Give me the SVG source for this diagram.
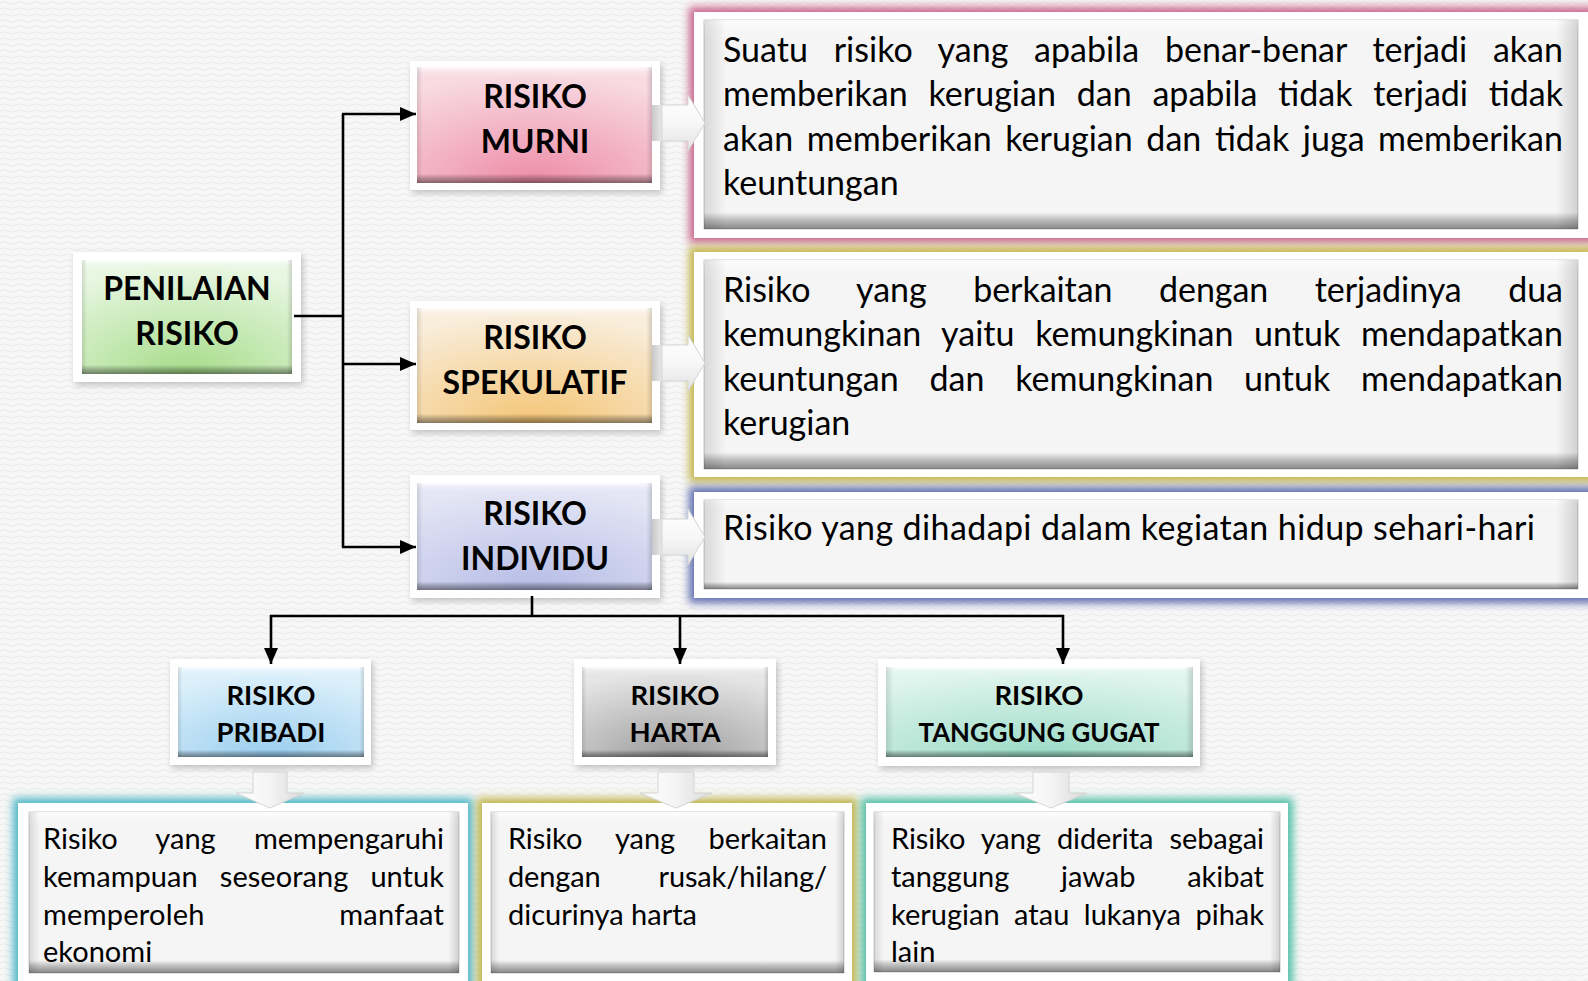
<svg xmlns="http://www.w3.org/2000/svg" width="1588" height="981" viewBox="0 0 1588 981">
<defs>
<style>
.frame{fill:#fff;filter:url(#sh)}
.nt{font-family:Lato,'Liberation Sans',sans-serif;font-weight:700;font-size:32px;text-anchor:middle;fill:#000}
.nts{font-size:27.5px}
.dt{font-family:Lato,'Liberation Sans',sans-serif;font-size:34px;fill:#000}
.dts{font-size:29px}
.inner{fill:#f5f5f5;stroke:#c9c9c9;stroke-width:1}
.bev{fill:url(#bevel)}
.bevs{fill:url(#bevelSide)}
.conn{fill:none;stroke:#000;stroke-width:2.6}
.chev{fill:url(#chevFill);stroke:#d4d4d4;stroke-width:1}
.glow{filter:url(#glow)}
</style>
<pattern id="bg" width="16" height="6" patternUnits="userSpaceOnUse">
<rect width="16" height="6" fill="#f7f7f7"/>
<path d="M0,3 Q4,0.5 8,3 T16,3" fill="none" stroke="#ebebeb" stroke-width="1"/>
</pattern>
<filter id="sh" x="-10%" y="-10%" width="125%" height="135%">
<feDropShadow dx="2" dy="3" stdDeviation="3" flood-color="#000" flood-opacity="0.22"/>
</filter>
<filter id="glow" x="-5%" y="-15%" width="110%" height="130%">
<feGaussianBlur stdDeviation="4"/>
</filter>
<linearGradient id="bevel" x1="0" y1="0" x2="0" y2="1">
<stop offset="0" stop-color="#fff" stop-opacity="0.85"/>
<stop offset="0.04" stop-color="#fff" stop-opacity="0.25"/>
<stop offset="0.09" stop-color="#fff" stop-opacity="0"/>
<stop offset="0.92" stop-color="#000" stop-opacity="0"/>
<stop offset="0.955" stop-color="#000" stop-opacity="0.22"/>
<stop offset="1" stop-color="#000" stop-opacity="0.45"/>
</linearGradient>
<linearGradient id="bevelSide" x1="0" y1="0" x2="1" y2="0">
<stop offset="0" stop-color="#000" stop-opacity="0.12"/>
<stop offset="0.025" stop-color="#000" stop-opacity="0"/>
<stop offset="0.975" stop-color="#000" stop-opacity="0"/>
<stop offset="1" stop-color="#000" stop-opacity="0.15"/>
</linearGradient>
<linearGradient id="chevFill" x1="0" y1="0" x2="0" y2="1">
<stop offset="0" stop-color="#ffffff"/>
<stop offset="0.5" stop-color="#f7f7f7"/>
<stop offset="1" stop-color="#e2e2e2"/>
</linearGradient>
<linearGradient id="chevDown" x1="0" y1="0" x2="1" y2="0">
<stop offset="0" stop-color="#ffffff"/>
<stop offset="0.5" stop-color="#f4f4f4"/>
<stop offset="1" stop-color="#dadada"/>
</linearGradient>
<linearGradient id="barH" x1="0" y1="0" x2="1" y2="0">
<stop offset="0" stop-color="#c8c8c8"/>
<stop offset="1" stop-color="#e8e8e8"/>
</linearGradient>
<linearGradient id="barV" x1="0" y1="0" x2="0" y2="1">
<stop offset="0" stop-color="#c8c8c8"/>
<stop offset="1" stop-color="#e8e8e8"/>
</linearGradient>
<radialGradient id="gGreen" cx="0.5" cy="1" r="0.95"><stop offset="0" stop-color="#a6dc8a"/><stop offset="1" stop-color="#e8f7e2"/></radialGradient>
<radialGradient id="gPink" cx="0.5" cy="1" r="0.95"><stop offset="0" stop-color="#ee8ca7"/><stop offset="1" stop-color="#f8dbe3"/></radialGradient>
<radialGradient id="gPeach" cx="0.5" cy="1" r="0.95"><stop offset="0" stop-color="#f4c576"/><stop offset="1" stop-color="#f9eddb"/></radialGradient>
<radialGradient id="gLav" cx="0.5" cy="1" r="0.95"><stop offset="0" stop-color="#b6bce6"/><stop offset="1" stop-color="#e4e6f5"/></radialGradient>
<radialGradient id="gBlue" cx="0.5" cy="1" r="0.95"><stop offset="0" stop-color="#98cdef"/><stop offset="1" stop-color="#def1fb"/></radialGradient>
<radialGradient id="gGray" cx="0.5" cy="1" r="0.95"><stop offset="0" stop-color="#9c9c9c"/><stop offset="1" stop-color="#e6e6e6"/></radialGradient>
<radialGradient id="gMint" cx="0.5" cy="1" r="0.95"><stop offset="0" stop-color="#9adac6"/><stop offset="1" stop-color="#e0f5ee"/></radialGradient>
<marker id="ah" markerUnits="userSpaceOnUse" markerWidth="18" markerHeight="16" refX="16" refY="7" orient="auto">
<path d="M0,0 L16,7 L0,14 z" fill="#000"/>
</marker>
</defs>

<rect width="1588" height="981" fill="url(#bg)"/>

<!-- description boxes -->
<g id="desc-murni">
<rect class="glow" x="689" y="7" width="910" height="236" fill="#c9668c"/>
<rect x="694" y="12" width="900" height="226" fill="#fff"/>
<rect class="inner" x="704" y="20" width="874" height="209"/>
<rect class="bev" x="704" y="20" width="874" height="209"/>
<rect class="bevs" x="704" y="20" width="874" height="209"/>
<text class="dt" x="723" y="61.5" word-spacing="17" textLength="840" lengthAdjust="spacing">Suatu risiko yang apabila benar-benar terjadi akan</text>
<text class="dt" x="723" y="106" word-spacing="12" textLength="840" lengthAdjust="spacing">memberikan kerugian dan apabila tidak terjadi tidak</text>
<text class="dt" x="723" y="150.5" word-spacing="4.8" textLength="840" lengthAdjust="spacing">akan memberikan kerugian dan tidak juga memberikan</text>
<text class="dt" x="723" y="195">keuntungan</text>
</g>

<g id="desc-spekulatif">
<rect class="glow" x="689" y="247" width="910" height="235" fill="#c4b54c"/>
<rect x="694" y="252" width="900" height="225" fill="#fff"/>
<rect class="inner" x="704" y="260" width="874" height="209"/>
<rect class="bev" x="704" y="260" width="874" height="209"/>
<rect class="bevs" x="704" y="260" width="874" height="209"/>
<text class="dt" x="723" y="301.5" word-spacing="37.9" textLength="840" lengthAdjust="spacing">Risiko yang berkaitan dengan terjadinya dua</text>
<text class="dt" x="723" y="346" word-spacing="11.9" textLength="840" lengthAdjust="spacing">kemungkinan yaitu kemungkinan untuk mendapatkan</text>
<text class="dt" x="723" y="390.5" word-spacing="22" textLength="840" lengthAdjust="spacing">keuntungan dan kemungkinan untuk mendapatkan</text>
<text class="dt" x="723" y="435">kerugian</text>
</g>

<g id="desc-individu">
<rect class="glow" x="689" y="487" width="910" height="116" fill="#5f6eb0"/>
<rect x="694" y="492" width="900" height="106" fill="#fff"/>
<rect class="inner" x="704" y="500" width="874" height="89"/>
<rect class="bev" x="704" y="500" width="874" height="89"/>
<rect class="bevs" x="704" y="500" width="874" height="89"/>
<text class="dt" x="723" y="540" textLength="812" lengthAdjust="spacing">Risiko yang dihadapi dalam kegiatan hidup sehari-hari</text>
</g>

<g id="desc-pribadi">
<rect class="glow" x="13" y="798" width="460" height="200" fill="#4fb7c8"/>
<rect x="18" y="803" width="450" height="190" fill="#fff"/>
<rect class="inner" x="29" y="812" width="430" height="161"/>
<rect class="bev" x="29" y="812" width="430" height="161"/>
<rect class="bevs" x="29" y="812" width="430" height="161"/>
<text class="dt dts" x="43" y="849" word-spacing="30.9" textLength="401" lengthAdjust="spacing">Risiko yang mempengaruhi</text>
<text class="dt dts" x="43" y="887" word-spacing="14.6" textLength="401" lengthAdjust="spacing">kemampuan seseorang untuk</text>
<text class="dt dts" x="43" y="925" word-spacing="126.8" textLength="401" lengthAdjust="spacing">memperoleh manfaat</text>
<text class="dt dts" x="43" y="962">ekonomi</text>
</g>

<g id="desc-harta">
<rect class="glow" x="477" y="798" width="380" height="200" fill="#c0b64e"/>
<rect x="482" y="803" width="370" height="190" fill="#fff"/>
<rect class="inner" x="491" y="812" width="353" height="161"/>
<rect class="bev" x="491" y="812" width="353" height="161"/>
<rect class="bevs" x="491" y="812" width="353" height="161"/>
<text class="dt dts" x="508" y="849" word-spacing="26.2" textLength="319" lengthAdjust="spacing">Risiko yang berkaitan</text>
<text class="dt dts" x="508" y="887" word-spacing="50.8" textLength="319" lengthAdjust="spacing">dengan rusak/hilang/</text>
<text class="dt dts" x="508" y="925">dicurinya harta</text>
</g>

<g id="desc-tanggung-gugat">
<rect class="glow" x="861" y="798" width="432" height="200" fill="#52c0a6"/>
<rect x="866" y="803" width="422" height="190" fill="#fff"/>
<rect class="inner" x="874" y="812" width="406" height="160"/>
<rect class="bev" x="874" y="812" width="406" height="160"/>
<rect class="bevs" x="874" y="812" width="406" height="160"/>
<text class="dt dts" x="891" y="849" word-spacing="8.8" textLength="373" lengthAdjust="spacing">Risiko yang diderita sebagai</text>
<text class="dt dts" x="891" y="887" word-spacing="44.5" textLength="373" lengthAdjust="spacing">tanggung jawab akibat</text>
<text class="dt dts" x="891" y="925" word-spacing="7.1" textLength="373" lengthAdjust="spacing">kerugian atau lukanya pihak</text>
<text class="dt dts" x="891" y="962">lain</text>
</g>

<!-- nodes -->
<g id="penilaian-risiko">
<rect class="frame" x="73" y="252" width="228" height="130"/>
<rect x="82" y="260" width="210" height="114" fill="url(#gGreen)"/>
<rect class="bev" x="82" y="260" width="210" height="114"/>
<rect class="bevs" x="82" y="260" width="210" height="114"/>
<text class="nt" x="187" y="300">PENILAIAN</text>
<text class="nt" x="187" y="345">RISIKO</text>
</g>

<g id="risiko-murni">
<rect class="frame" x="410" y="61" width="250" height="129"/>
<rect x="417" y="67" width="235" height="116" fill="url(#gPink)"/>
<rect class="bev" x="417" y="67" width="235" height="116"/>
<rect class="bevs" x="417" y="67" width="235" height="116"/>
<text class="nt" x="535" y="108">RISIKO</text>
<text class="nt" x="535" y="153">MURNI</text>
</g>

<g id="risiko-spekulatif">
<rect class="frame" x="410" y="301" width="250" height="129"/>
<rect x="417" y="308" width="235" height="115" fill="url(#gPeach)"/>
<rect class="bev" x="417" y="308" width="235" height="115"/>
<rect class="bevs" x="417" y="308" width="235" height="115"/>
<text class="nt" x="535" y="349">RISIKO</text>
<text class="nt" x="535" y="394">SPEKULATIF</text>
</g>

<g id="risiko-individu">
<rect class="frame" x="410" y="475" width="250" height="123"/>
<rect x="417" y="483" width="235" height="107" fill="url(#gLav)"/>
<rect class="bev" x="417" y="483" width="235" height="107"/>
<rect class="bevs" x="417" y="483" width="235" height="107"/>
<text class="nt" x="535" y="525">RISIKO</text>
<text class="nt" x="535" y="570">INDIVIDU</text>
</g>

<g id="risiko-pribadi">
<rect class="frame" x="170" y="659" width="201" height="106"/>
<rect x="178" y="667" width="186" height="90" fill="url(#gBlue)"/>
<rect class="bev" x="178" y="667" width="186" height="90"/>
<rect class="bevs" x="178" y="667" width="186" height="90"/>
<text class="nt nts" x="271" y="705">RISIKO</text>
<text class="nt nts" x="271" y="742">PRIBADI</text>
</g>

<g id="risiko-harta">
<rect class="frame" x="574" y="659" width="202" height="106"/>
<rect x="582" y="667" width="186" height="90" fill="url(#gGray)"/>
<rect class="bev" x="582" y="667" width="186" height="90"/>
<rect class="bevs" x="582" y="667" width="186" height="90"/>
<text class="nt nts" x="675" y="705">RISIKO</text>
<text class="nt nts" x="675" y="742">HARTA</text>
</g>

<g id="risiko-tanggung-gugat">
<rect class="frame" x="878" y="659" width="322" height="107"/>
<rect x="886" y="667" width="307" height="90" fill="url(#gMint)"/>
<rect class="bev" x="886" y="667" width="307" height="90"/>
<rect class="bevs" x="886" y="667" width="307" height="90"/>
<text class="nt nts" x="1039" y="705">RISIKO</text>
<text class="nt nts" x="1039" y="742" textLength="241" lengthAdjust="spacingAndGlyphs">TANGGUNG GUGAT</text>
</g>

<!-- block arrows -->
<g id="block-arrows">
<rect x="652" y="105" width="10" height="36" fill="url(#barH)"/>
<polygon class="chev" points="662,105 688,105 688,95 705,123 688,151 688,141 662,141"/>
<rect x="652" y="345" width="10" height="36" fill="url(#barH)"/>
<polygon class="chev" points="662,345 688,345 688,335 705,363 688,391 688,381 662,381"/>
<rect x="652" y="519" width="10" height="36" fill="url(#barH)"/>
<polygon class="chev" points="662,519 688,519 688,509 705,537 688,565 688,555 662,555"/>
<rect x="253" y="765" width="34" height="7" fill="url(#barV)"/>
<polygon points="253,772 287,772 287,793 304,793 270,808 236,793 253,793" fill="url(#chevDown)" stroke="#d4d4d4"/>
<rect x="658" y="765" width="36" height="7" fill="url(#barV)"/>
<polygon points="658,772 694,772 694,793 712,793 676,808 640,793 658,793" fill="url(#chevDown)" stroke="#d4d4d4"/>
<rect x="1033" y="766" width="36" height="6" fill="url(#barV)"/>
<polygon points="1033,772 1069,772 1069,793 1087,793 1051,808 1015,793 1033,793" fill="url(#chevDown)" stroke="#d4d4d4"/>
</g>

<!-- connectors -->
<g id="connectors">
<path class="conn" d="M294,316 H343"/>
<path class="conn" d="M343,114 V547"/>
<path class="conn" d="M342,114 H416" marker-end="url(#ah)"/>
<path class="conn" d="M342,364 H416" marker-end="url(#ah)"/>
<path class="conn" d="M342,547 H416" marker-end="url(#ah)"/>
<path class="conn" d="M532,596 V616"/>
<path class="conn" d="M270,616 H1064"/>
<path class="conn" d="M271,615 V664" marker-end="url(#ah)"/>
<path class="conn" d="M680,615 V664" marker-end="url(#ah)"/>
<path class="conn" d="M1063,615 V664" marker-end="url(#ah)"/>
</g>
</svg>
